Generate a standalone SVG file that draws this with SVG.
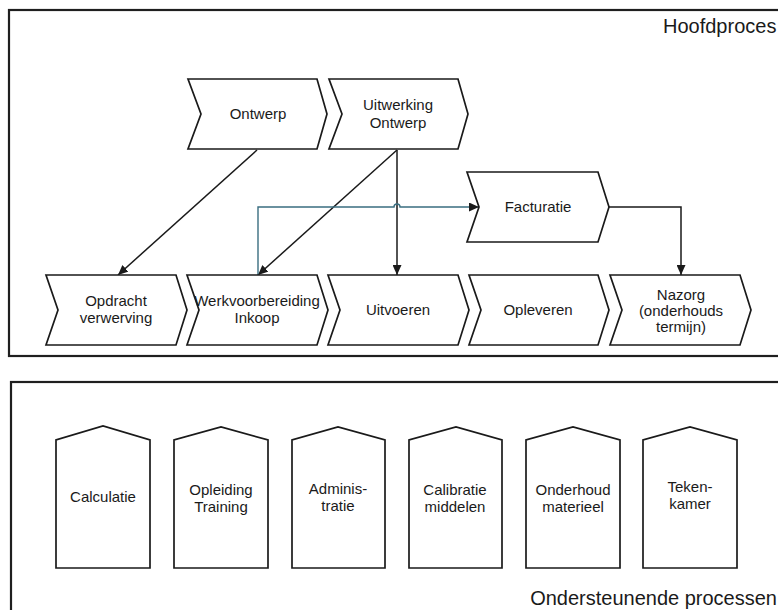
<svg xmlns="http://www.w3.org/2000/svg" width="778" height="610" viewBox="0 0 778 610">
<style>
.frame{fill:none;stroke:#1f1f1f;stroke-width:2.2}
.shape{fill:#fff;stroke:#1a1a1a;stroke-width:1.7;stroke-linejoin:miter}
.lbl{font-family:"Liberation Sans",Arial,sans-serif;font-size:15px;fill:#1a1a1a;text-anchor:middle}
.title{font-family:"Liberation Sans",Arial,sans-serif;font-size:20px;fill:#1a1a1a}
.con{fill:none;stroke:#1a1a1a;stroke-width:1.5}
.con2{fill:none;stroke:#3a6e80;stroke-width:1.4}
</style>
<defs>
<marker id="ah" markerUnits="userSpaceOnUse" markerWidth="11" markerHeight="9" refX="10" refY="4.5" orient="auto">
<path d="M0,0 L10,4.5 L0,9 Z" fill="#1a1a1a"/>
</marker>
</defs>
<rect width="778" height="610" fill="#fff"/>

<g id="hoofdproces">
<rect class="frame" x="9" y="10" width="790" height="346"/>
<text class="title" x="663" y="33">Hoofdproces</text>
</g>
<g id="ondersteunende">
<rect class="frame" x="11" y="382" width="790" height="250"/>
<text class="title" x="777" y="605" text-anchor="end">Ondersteunende processen</text>
</g>

<g id="connectors">
<path class="con" d="M257,150 L118,275" marker-end="url(#ah)"/>
<path class="con" d="M397,150 L258,275" marker-end="url(#ah)"/>
<path class="con" d="M397,150 V275" marker-end="url(#ah)"/>
<path class="con2" d="M258,275 V207 H394 A3,3 0 0 1 400,207 H479" marker-end="url(#ah)"/>
<path class="con" d="M608,207 H681 V275" marker-end="url(#ah)"/>
</g>

<g id="ontwerp">
<path class="shape" d="M188,79 H317 L327,114 L317,149 H188 L201,114 Z"/>
<text class="lbl" x="258" y="119">Ontwerp</text>
</g>
<g id="uitwerking-ontwerp">
<path class="shape" d="M329,79 H458 L468,114 L458,149 H329 L342,114 Z"/>
<text class="lbl" x="398" y="110">Uitwerking</text>
<text class="lbl" x="398" y="128">Ontwerp</text>
</g>
<g id="facturatie">
<path class="shape" d="M467,172 H598 L609,207 L598,242 H467 L479,207 Z"/>
<text class="lbl" x="538" y="212">Facturatie</text>
</g>

<g id="opdracht-verwerving">
<path class="shape" d="M46,275 H176 L187,310 L176,345 H46 L58,310 Z"/>
<text class="lbl" x="116" y="306">Opdracht</text>
<text class="lbl" x="116" y="323">verwerving</text>
</g>
<g id="werkvoorbereiding-inkoop">
<path class="shape" d="M187,275 H317 L328,310 L317,345 H187 L199,310 Z"/>
<text class="lbl" x="257" y="306">Werkvoorbereiding</text>
<text class="lbl" x="257" y="323">Inkoop</text>
</g>
<g id="uitvoeren">
<path class="shape" d="M328,275 H458 L469,310 L458,345 H328 L340,310 Z"/>
<text class="lbl" x="398" y="315">Uitvoeren</text>
</g>
<g id="opleveren">
<path class="shape" d="M469,275 H598 L609,310 L598,345 H469 L481,310 Z"/>
<text class="lbl" x="538" y="315">Opleveren</text>
</g>
<g id="nazorg">
<path class="shape" d="M610,275 H740 L751,310 L740,345 H610 L622,310 Z"/>
<text class="lbl" x="681" y="300">Nazorg</text>
<text class="lbl" x="681" y="316">(onderhouds</text>
<text class="lbl" x="681" y="332">termijn)</text>
</g>

<g id="calculatie">
<path class="shape" d="M56,568 V440 L103,426 L150,440 V568 Z"/>
<text class="lbl" x="103" y="502">Calculatie</text>
</g>
<g id="opleiding-training">
<path class="shape" d="M174,568 V440 L221,427 L268,440 V568 Z"/>
<text class="lbl" x="221" y="495">Opleiding</text>
<text class="lbl" x="221" y="512">Training</text>
</g>
<g id="administratie">
<path class="shape" d="M292,568 V440 L338,427 L385,440 V568 Z"/>
<text class="lbl" x="338" y="494">Adminis-</text>
<text class="lbl" x="338" y="511">tratie</text>
</g>
<g id="calibratie-middelen">
<path class="shape" d="M409,568 V440 L456,427 L502,440 V568 Z"/>
<text class="lbl" x="455" y="495">Calibratie</text>
<text class="lbl" x="455" y="512">middelen</text>
</g>
<g id="onderhoud-materieel">
<path class="shape" d="M526,568 V440 L573,427 L620,440 V568 Z"/>
<text class="lbl" x="573" y="495">Onderhoud</text>
<text class="lbl" x="573" y="512">materieel</text>
</g>
<g id="tekenkamer">
<path class="shape" d="M643,568 V440 L690,427 L737,440 V568 Z"/>
<text class="lbl" x="690" y="492">Teken-</text>
<text class="lbl" x="690" y="509">kamer</text>
</g>
</svg>
